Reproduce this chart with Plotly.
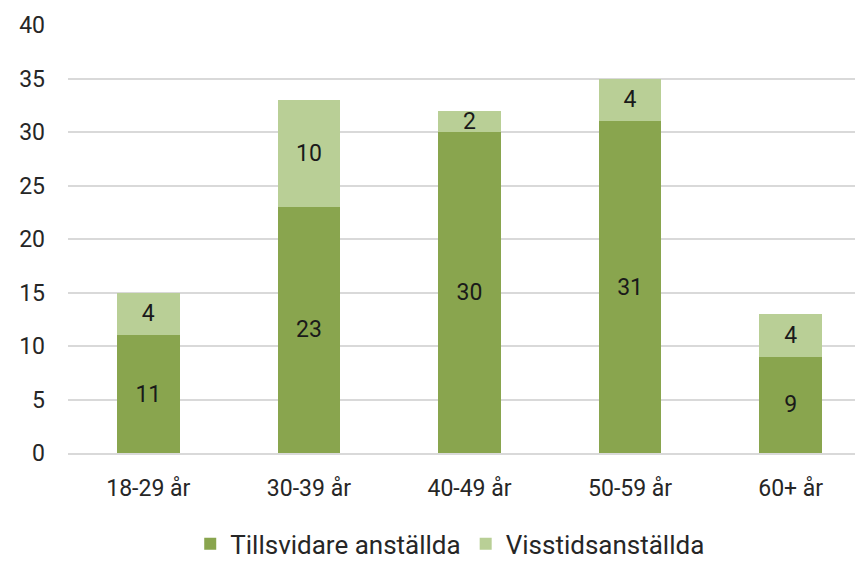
import plotly.graph_objects as go

categories = ["18-29 år", "30-39 år", "40-49 år", "50-59 år", "60+ år"]
tillsvidare = [11, 23, 30, 31, 9]
visstid = [4, 10, 2, 4, 4]
series_names = ["Tillsvidare anställda", "Visstidsanställda"]
y_ticks = [0, 5, 10, 15, 20, 25, 30, 35, 40]

FONT = "Roboto"
fig = go.Figure()
for vals, name, col in [(tillsvidare, series_names[0], "#89A54E"),
                        (visstid, series_names[1], "#B9CF96")]:
    fig.add_trace(go.Bar(x=categories, y=vals, name=name,
                         marker=dict(color=col, line=dict(width=0)),
                         text=vals, textposition="inside", insidetextanchor="middle",
                         textangle=0, constraintext="none", cliponaxis=False,
                         textfont=dict(color="#1a1a1a", size=23, family=FONT)))

fig.update_layout(
    barmode="stack", bargap=0.61,
    width=863, height=562,
    margin=dict(l=60, r=0, t=17, b=117, autoexpand=False),
    paper_bgcolor="white", plot_bgcolor="white",
    font=dict(family=FONT, size=23, color="#262626"),
    uniformtext=dict(minsize=23, mode="show"),
    legend=dict(orientation="h", x=0.476, xanchor="center", y=-0.212, yanchor="middle",
                font=dict(size=26, color="#262626"), itemwidth=30, traceorder="normal"),
    xaxis=dict(showgrid=False, showline=True, linecolor="#D9D9D9", linewidth=1.5,
               ticks="", tickfont=dict(size=23), ticklabelstandoff=14),
    yaxis=dict(range=[0, 40], tickvals=y_ticks, showgrid=True, gridcolor="#D9D9D9",
               gridwidth=1.5, zeroline=False, showline=False, ticks="",
               ticklabelstandoff=22, tickfont=dict(size=23)),
)
fig.write_html("out.html")
